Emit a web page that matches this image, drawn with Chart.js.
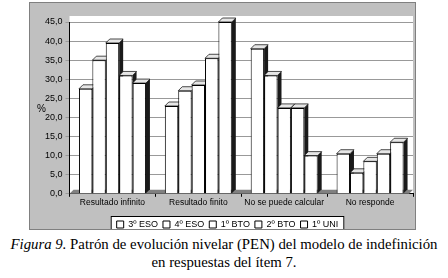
<!DOCTYPE html>
<html>
<head>
<meta charset="utf-8">
<script src="https://cdn.jsdelivr.net/npm/chart.js@4"></script>
<style>
  body { margin: 0; background: #fff; width: 448px; height: 278px; position: relative; overflow: hidden; }
  #panel { position: absolute; left: 29px; top: 2px; width: 385px; height: 226px; background: #c0c0c0; border: 1px solid #808080; }
  #wrap { position: absolute; left: 0; top: 0; width: 385px; height: 226px; }
  #pct { position: absolute; left: 7px; top: 100px; font-family: "Liberation Sans", Arial, sans-serif; font-size: 10px; color: #000; }
  #caption { position: absolute; left: 0; top: 235px; width: 448px; text-align: center; font-family: "Liberation Serif", "Times New Roman", serif; font-size: 14.8px; line-height: 18px; color: #000; }
</style>
</head>
<body>
<div id="panel">
  <div id="wrap"><canvas id="chart"></canvas></div>
  <div id="pct">%</div>
</div>
<div id="caption"><i>Figura 9.</i> Patrón de evolución nivelar (PEN) del modelo de indefinición<br>en respuestas del ítem 7.</div>
<script>
// categorías y series
const categorias = ['Resultado infinito', 'Resultado finito', 'No se puede calcular', 'No responde'];
const cursos = ['3º ESO', '4º ESO', '1º BTO', '2º BTO', '1º UNI'];

const eso3 = [27.5, 23.0, 38.0, 10.5];
const eso4 = [35.0, 27.0, 31.0, 5.5];
const bto1 = [39.5, 28.5, 22.5, 8.5];
const bto2 = [31.0, 35.5, 22.5, 10.5];
const uni1 = [29.0, 45.0, 10.0, 13.5];

const ticksY = [0, 5, 10, 15, 20, 25, 30, 35, 40, 45];

const series = [eso3, eso4, bto1, bto2, uni1];

const fuente = "'Liberation Sans', Arial, sans-serif";

// caras laterales y superior (efecto 3D)
const efecto3D = {
  id: 'efecto3D',
  beforeDatasetsDraw(chart) {
    const ctx = chart.ctx;
    const d = 4;
    const area = chart.chartArea;
    ctx.save();
    // suelo
    ctx.fillStyle = '#808080';
    ctx.beginPath();
    ctx.moveTo(area.left, area.bottom);
    ctx.lineTo(area.left + d, area.bottom - d);
    ctx.lineTo(area.right, area.bottom - d);
    ctx.lineTo(area.right - d, area.bottom);
    ctx.closePath();
    ctx.fill();
    for (let i = 0; i < categorias.length; i++) {
      chart.data.datasets.forEach((ds, k) => {
        const bar = chart.getDatasetMeta(k).data[i];
        const l = bar.x - bar.width / 2;
        const r = bar.x + bar.width / 2;
        // lateral
        ctx.fillStyle = '#1a1a1a';
        ctx.beginPath();
        ctx.moveTo(r, bar.y);
        ctx.lineTo(r + d, bar.y - d);
        ctx.lineTo(r + d, bar.base - d);
        ctx.lineTo(r, bar.base);
        ctx.closePath();
        ctx.fill();
        // superior
        ctx.fillStyle = '#e6e6e6';
        ctx.strokeStyle = '#000';
        ctx.lineWidth = 0.7;
        ctx.beginPath();
        ctx.moveTo(l, bar.y);
        ctx.lineTo(l + d, bar.y - d);
        ctx.lineTo(r + d, bar.y - d);
        ctx.lineTo(r, bar.y);
        ctx.closePath();
        ctx.fill();
        ctx.stroke();
      });
    }
    ctx.restore();
  }
};

// recuadro blanco de la leyenda
const fondoLeyenda = {
  id: 'fondoLeyenda',
  beforeDraw(chart) {
    const boxes = chart.legend.legendHitBoxes;
    if (!boxes || !boxes.length) return;
    const ctx = chart.ctx;
    const cy = boxes[0].top + boxes[0].height / 2;
    const x0 = Math.min(...boxes.map(b => b.left)) - 6;
    const x1 = Math.max(...boxes.map(b => b.left + b.width)) + 6;
    const y0 = Math.round(cy - 9);
    const y1 = Math.round(cy + 9);
    ctx.save();
    ctx.fillStyle = '#fff';
    ctx.fillRect(x0, y0, x1 - x0, y1 - y0);
    ctx.strokeStyle = '#000';
    ctx.lineWidth = 1;
    ctx.strokeRect(x0 + 0.5, y0 + 0.5, x1 - x0 - 1, y1 - y0 - 1);
    ctx.restore();
  }
};

// fondo blanco del área de trazado
const fondoArea = {
  id: 'fondoArea',
  beforeDraw(chart) {
    const a = chart.chartArea;
    const ctx = chart.ctx;
    ctx.save();
    ctx.fillStyle = '#fff';
    ctx.fillRect(a.left, a.top - 6, a.right - a.left, a.bottom - a.top + 6);
    ctx.restore();
  }
};

new Chart(document.getElementById('chart'), {
  type: 'bar',
  data: {
    labels: categorias,
    datasets: cursos.map((c, k) => ({
      label: c,
      data: series[k],
      backgroundColor: '#ffffff',
      borderColor: '#000000',
      borderWidth: 1,
      barPercentage: 1.0,
      categoryPercentage: 0.78
    }))
  },
  options: {
    responsive: true,
    maintainAspectRatio: false,
    animation: false,
    layout: { padding: { left: 12, right: 2, top: 19, bottom: -10 } },
    plugins: {
      tooltip: { enabled: false },
      legend: {
        position: 'bottom',
        title: { display: true, text: ' ', font: { size: 1, lineHeight: 1 }, padding: { top: 5, bottom: 0 } },
        labels: {
          boxWidth: 7,
          boxHeight: 7,
          padding: 5,
          color: '#000',
          font: { family: fuente, size: 9 }
        }
      }
    },
    scales: {
      x: {
        grid: { display: true, drawOnChartArea: false, color: '#000', tickLength: 3, offset: true },
        border: { color: '#000' },
        ticks: { color: '#000', font: { family: fuente, size: 8.5 }, padding: 1 }
      },
      y: {
        min: 0,
        max: 45,
        afterBuildTicks(axis) { axis.ticks = ticksY.map(v => ({ value: v })); },
        grid: { color: '#999', tickLength: 4 },
        border: { color: '#000' },
        ticks: {
          color: '#000',
          font: { family: fuente, size: 9 },
          callback: v => v.toFixed(1).replace('.', ',')
        }
      }
    }
  },
  plugins: [fondoArea, fondoLeyenda, efecto3D]
});
</script>
</body>
</html>
